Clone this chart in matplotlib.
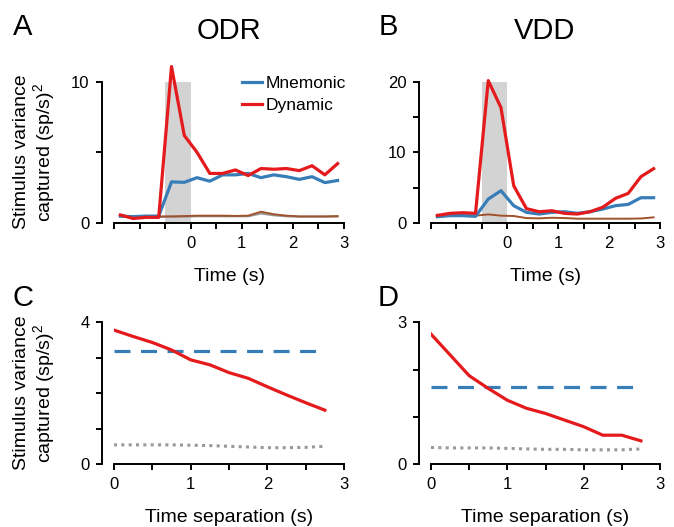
import numpy as np
import matplotlib
matplotlib.use("Agg")
import matplotlib.pyplot as plt

plt.rcParams['font.family'] = ['Liberation Sans', 'DejaVu Sans']
plt.rcParams['mathtext.fontset'] = 'custom'
plt.rcParams['mathtext.rm'] = 'Liberation Sans'
plt.rcParams['mathtext.it'] = 'Liberation Sans:italic'

# time bins (s), panels A and B
t = [-1.375, -1.125, -0.875, -0.625, -0.375, -0.125, 0.125, 0.375, 0.625,
     0.875, 1.125, 1.375, 1.625, 1.875, 2.125, 2.375, 2.625, 2.875]

# ODR
odr_mnemonic = [0.47, 0.43, 0.47, 0.47, 2.9, 2.87, 3.2, 2.95, 3.4,
                3.4, 3.5, 3.2, 3.4, 3.27, 3.08, 3.27, 2.85, 3.0]
odr_dynamic = [0.55, 0.3, 0.38, 0.38, 11.1, 6.2, 5.0, 3.5, 3.5,
               3.75, 3.35, 3.85, 3.8, 3.85, 3.7, 4.05, 3.4, 4.2]
odr_brown = [0.5, 0.42, 0.45, 0.45, 0.45, 0.47, 0.5, 0.5, 0.5,
             0.48, 0.5, 0.78, 0.6, 0.5, 0.45, 0.45, 0.45, 0.47]
odr_gray = [0.42, 0.38, 0.4, 0.4, 0.42, 0.43, 0.45, 0.45, 0.45,
            0.45, 0.45, 0.65, 0.52, 0.45, 0.42, 0.42, 0.42, 0.43]

# VDD
vdd_mnemonic = [0.85, 1.0, 1.0, 0.9, 3.36, 4.55, 2.42, 1.47, 1.23,
                1.47, 1.56, 1.33, 1.56, 1.94, 2.42, 2.6, 3.55, 3.55]
vdd_dynamic = [1.04, 1.33, 1.42, 1.33, 20.2, 16.35, 5.26, 2.0, 1.56,
               1.7, 1.33, 1.23, 1.56, 2.2, 3.46, 4.17, 6.54, 7.68]
vdd_brown = [1.0, 1.09, 1.04, 1.0, 1.18, 1.0, 0.95, 0.66, 0.62,
             0.7, 0.66, 0.57, 0.57, 0.57, 0.57, 0.57, 0.6, 0.76]

# time separation (s), panels C and D
sep = [0, 0.25, 0.5, 0.75, 1.0, 1.25, 1.5, 1.75, 2.0, 2.25, 2.5, 2.75]
odr_sep_dynamic = [3.78, 3.6, 3.43, 3.22, 2.94, 2.8, 2.58, 2.42, 2.18, 1.95, 1.73, 1.52]
odr_sep_mnemonic = 3.18
odr_sep_shuffle = [0.54, 0.54, 0.54, 0.54, 0.53, 0.52, 0.5, 0.48, 0.46, 0.46, 0.47, 0.5]
vdd_sep_dynamic = [2.75, 2.31, 1.87, 1.6, 1.35, 1.18, 1.07, 0.93, 0.79, 0.61, 0.61, 0.49]
vdd_sep_mnemonic = 1.63
vdd_sep_shuffle = [0.35, 0.34, 0.34, 0.34, 0.33, 0.32, 0.31, 0.31, 0.3, 0.3, 0.3, 0.32]

RED = '#e41a1c'
BLUE = '#377eb8'
BROWN = '#a0522d'
GRAY = '#999999'

fig = plt.figure(figsize=(6.74, 5.27), dpi=100)
W, H = 674, 527


def make_ax(x0, x1, ytop, ybot):
    return fig.add_axes([x0 / W, 1 - ybot / H, (x1 - x0) / W, (ybot - ytop) / H])


def style(ax, xlim, xticks, xlabels, ylim, yticks, ylabels, xlabel):
    ax.set_xlim(*xlim)
    ax.set_ylim(*ylim)
    ax.set_xticks(xticks)
    ax.set_xticklabels(xlabels)
    ax.set_yticks(yticks)
    ax.set_yticklabels(ylabels)
    for s in ['top', 'right']:
        ax.spines[s].set_visible(False)
    for s in ['left', 'bottom']:
        ax.spines[s].set_linewidth(1.4)
    ax.spines['left'].set_position(('outward', 9))
    ax.tick_params(direction='out', length=4.5, width=1.4, labelsize=12, pad=4)
    ax.tick_params(axis='x', pad=5)
    ax.set_xlabel(xlabel, fontsize=14, labelpad=12)
    ax.patch.set_alpha(0)


def half_labels(vals):
    return [str(int(v)) if (v >= 0 and float(v).is_integer()) else '' for v in vals]


xt_time = np.arange(-1.5, 3.01, 0.5)
xt_sep = np.arange(0, 3.01, 0.5)

# A: ODR
axA = make_ax(114, 344, 82, 222.7)
axA.axvspan(-0.5, 0, color='#d3d3d3', lw=0, zorder=0)
axA.plot(t, odr_gray, color=GRAY, lw=1.4, clip_on=False)
axA.plot(t, odr_brown, color=BROWN, lw=1.4, clip_on=False)
axA.plot(t, odr_mnemonic, color=BLUE, lw=2.3, label='Mnemonic', clip_on=False)
axA.plot(t, odr_dynamic, color=RED, lw=2.3, label='Dynamic', clip_on=False)
style(axA, (-1.5, 3), xt_time, half_labels(xt_time), (0, 10), [0, 5, 10], ['0', '', '10'], 'Time (s)')
axA.legend(loc='upper right', bbox_to_anchor=(1.01, 1.045), frameon=False, fontsize=12.5,
           handlelength=1.2, handletextpad=0.2, borderaxespad=0, borderpad=0, labelspacing=0.4)

# B: VDD
axB = make_ax(431, 660, 82, 222.7)
axB.axvspan(-0.5, 0, color='#d3d3d3', lw=0, zorder=0)
axB.plot(t, vdd_brown, color=BROWN, lw=1.4, clip_on=False)
axB.plot(t, vdd_mnemonic, color=BLUE, lw=2.3, clip_on=False)
axB.plot(t, vdd_dynamic, color=RED, lw=2.3, clip_on=False)
style(axB, (-1.5, 3), xt_time, half_labels(xt_time), (0, 20), [0, 5, 10, 15, 20],
      ['0', '', '10', '', '20'], 'Time (s)')

# C: ODR time separation
axC = make_ax(114, 344, 322.3, 464)
axC.plot(sep, odr_sep_shuffle, color=GRAY, lw=2.2, ls=(0, (1, 1.4)))
axC.plot([sep[0], sep[-1]], [odr_sep_mnemonic] * 2, color=BLUE, lw=2.3, ls=(0, (5, 3.3)))
axC.plot(sep, odr_sep_dynamic, color=RED, lw=2.3)
style(axC, (0, 3), xt_sep, half_labels(xt_sep), (0, 4), [0, 1, 2, 3, 4],
      ['0', '', '', '', '4'], 'Time separation (s)')

# D: VDD time separation
axD = make_ax(431, 660, 322.3, 464)
axD.plot(sep, vdd_sep_shuffle, color=GRAY, lw=2.2, ls=(0, (1, 1.4)))
axD.plot([sep[0], sep[-1]], [vdd_sep_mnemonic] * 2, color=BLUE, lw=2.3, ls=(0, (5, 3.3)))
axD.plot(sep, vdd_sep_dynamic, color=RED, lw=2.3)
style(axD, (0, 3), xt_sep, half_labels(xt_sep), (0, 3), [0, 1, 2, 3],
      ['0', '', '', '3'], 'Time separation (s)')

ylab = 'Stimulus variance\ncaptured (sp/s)$^2$'
fig.text(35 / W, 1 - 152 / H, ylab, rotation=90, ha='center', va='center', fontsize=14,
         linespacing=1.1)
fig.text(35 / W, 1 - 393 / H, ylab, rotation=90, ha='center', va='center', fontsize=14,
         linespacing=1.1)

# panel letters and titles
fig.text(13 / W, 1 - 35 / H, 'A', fontsize=21, ha='left', va='baseline')
fig.text(379 / W, 1 - 35 / H, 'B', fontsize=21, ha='left', va='baseline')
fig.text(13 / W, 1 - 306 / H, 'C', fontsize=21, ha='left', va='baseline')
fig.text(378 / W, 1 - 306 / H, 'D', fontsize=21, ha='left', va='baseline')
fig.text(229 / W, 1 - 39 / H, 'ODR', fontsize=21, ha='center', va='baseline')
fig.text(545 / W, 1 - 39 / H, 'VDD', fontsize=21, ha='center', va='baseline')

fig.savefig('out.png', dpi=100)
